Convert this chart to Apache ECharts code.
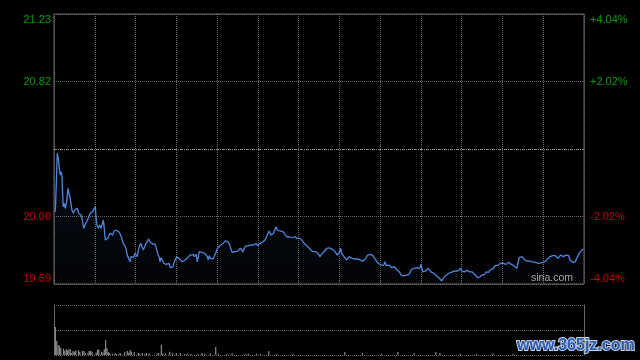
<!DOCTYPE html>
<html><head><meta charset="utf-8">
<script src="https://cdn.jsdelivr.net/npm/echarts@6/dist/echarts.min.js"></script>
<style>html,body{margin:0;padding:0;background:#000;}#c{width:640px;height:360px;}</style>
</head><body><div id="c"></div>
<script>
const prevClose = 20.41;
const sessionMinutes = 390;
const leftTickLabels = ['19.59', '20.00', '', '20.82', '21.23'];
const rightTickLabels = ['-4.04%', '-2.02%', '', '+2.02%', '+4.04%'];

// [minute since open, price]
const minutePrice = [
[1.0,20.029],[2.4,20.384],[3.2,20.353],[3.9,20.293],[4.6,20.252],[5.2,20.272],[5.9,20.242],[6.4,20.130],[6.8,20.059],[7.6,20.080],
[8.3,20.050],[9.3,20.090],[10.3,20.171],[11.0,20.141],[11.8,20.120],[12.5,20.080],[13.2,20.039],[14.2,20.019],[15.2,20.039],[16.2,20.029],
[17.1,20.050],[18.2,20.019],[19.1,20.019],[20.1,20.009],[21.1,19.968],[21.9,19.928],[22.8,19.948],[24.1,19.948],[25.2,19.989],[26.5,20.019],
[28.0,20.025],[29.4,20.019],[30.4,20.059],[30.9,19.999],[31.6,19.948],[32.6,19.928],[33.6,19.948],[34.6,19.928],[35.5,19.938],[36.3,19.979],
[37.0,19.928],[37.7,19.857],[38.8,19.847],[39.5,19.867],[40.5,19.857],[41.2,19.898],[42.2,19.907],[43.2,19.887],[44.1,19.912],[45.6,19.918],
[46.9,19.907],[48.0,19.904],[49.1,19.887],[50.0,19.877],[51.0,19.837],[52.2,19.827],[53.0,19.807],[53.9,19.766],[55.0,19.756],[55.9,19.725],
[56.7,19.756],[57.6,19.766],[58.6,19.750],[59.6,19.776],[60.3,19.766],[61.3,19.756],[62.0,19.790],[62.8,19.816],[63.8,19.837],[64.8,19.827],
[65.7,19.796],[66.7,19.816],[67.7,19.837],[68.7,19.847],[69.7,19.863],[70.6,19.847],[71.6,19.843],[72.6,19.833],[73.6,19.841],[74.5,19.831],
[75.6,19.830],[76.3,19.776],[77.3,19.756],[78.0,19.725],[78.7,19.750],[79.7,19.736],[80.7,19.716],[81.7,19.722],[82.6,19.709],[83.7,19.705],
[84.6,19.716],[85.6,19.689],[86.6,19.701],[87.6,19.695],[88.5,19.725],[89.5,19.736],[90.5,19.756],[91.5,19.746],[92.5,19.740],[93.4,19.729],
[94.4,19.725],[95.4,19.729],[96.4,19.736],[97.3,19.742],[98.4,19.750],[99.3,19.756],[100.3,19.766],[101.3,19.762],[102.3,19.770],[103.2,19.756],
[104.0,19.750],[104.7,19.770],[105.4,19.725],[106.2,19.756],[106.9,19.786],[107.9,19.790],[108.9,19.782],[109.9,19.790],[110.9,19.776],[111.8,19.766],
[112.8,19.756],[113.5,19.736],[114.3,19.762],[115.0,19.746],[116.0,19.750],[117.0,19.742],[118.0,19.762],[119.0,19.776],[119.9,19.802],[120.9,19.810],
[122.1,19.822],[123.4,19.827],[124.4,19.837],[125.3,19.847],[126.3,19.853],[127.3,19.847],[128.3,19.843],[129.3,19.827],[130.2,19.802],[131.2,19.782],
[132.2,19.776],[133.2,19.786],[134.1,19.782],[135.2,19.790],[136.1,19.796],[137.1,19.807],[138.1,19.816],[139.1,19.786],[140.0,19.807],[141.1,19.822],
[142.0,19.810],[143.0,19.822],[144.0,19.831],[145.0,19.827],[145.9,19.837],[146.9,19.827],[147.9,19.816],[148.9,19.837],[149.9,19.822],[150.8,19.827],
[151.8,19.837],[152.8,19.831],[153.8,19.847],[154.7,19.857],[155.6,19.860],[156.5,19.863],[157.5,19.898],[158.4,19.912],[159.5,19.887],[160.4,19.877],
[161.4,19.898],[162.4,19.918],[163.4,19.938],[164.3,19.918],[165.3,19.918],[166.3,19.912],[167.5,19.918],[168.7,19.907],[170.0,19.898],[171.2,19.877],
[172.2,19.867],[173.1,19.877],[174.2,19.883],[175.1,19.871],[176.1,19.867],[177.1,19.877],[178.1,19.871],[179.0,19.867],[180.1,19.877],[181.0,19.867],
[182.0,19.857],[183.0,19.851],[184.0,19.837],[184.9,19.831],[185.9,19.822],[186.9,19.815],[187.9,19.807],[188.9,19.796],[189.8,19.790],[190.8,19.782],
[191.8,19.786],[192.8,19.790],[193.7,19.782],[194.8,19.790],[195.7,19.756],[196.7,19.770],[197.7,19.782],[198.7,19.786],[199.6,19.796],[200.7,19.807],
[201.6,19.813],[202.6,19.810],[203.6,19.807],[204.6,19.802],[205.5,19.796],[206.5,19.790],[207.5,19.782],[208.5,19.766],[209.5,19.756],[210.2,19.786],
[211.0,19.807],[211.7,19.776],[212.4,19.766],[213.4,19.756],[214.3,19.746],[215.4,19.736],[216.3,19.746],[217.3,19.756],[218.3,19.750],[219.3,19.746],
[220.2,19.746],[221.3,19.742],[222.2,19.746],[223.2,19.742],[224.2,19.746],[225.2,19.736],[226.1,19.746],[227.1,19.729],[228.1,19.725],[229.1,19.742],
[229.8,19.746],[230.8,19.766],[231.8,19.776],[232.7,19.770],[233.8,19.776],[234.7,19.762],[235.7,19.750],[236.7,19.736],[237.7,19.725],[238.6,19.716],
[239.7,19.709],[240.6,19.705],[241.6,19.709],[242.6,19.705],[243.6,19.725],[244.5,19.701],[245.5,19.695],[246.5,19.705],[247.5,19.701],[248.5,19.689],
[249.4,19.695],[250.4,19.695],[251.4,19.685],[252.4,19.675],[253.3,19.669],[254.4,19.661],[255.3,19.644],[256.3,19.655],[257.3,19.640],[258.3,19.634],
[259.2,19.644],[260.3,19.634],[261.2,19.648],[262.2,19.664],[263.2,19.681],[264.2,19.675],[265.1,19.685],[266.1,19.675],[267.1,19.689],[268.1,19.695],
[269.1,19.685],[270.0,19.709],[270.8,19.685],[271.5,19.664],[272.5,19.675],[273.5,19.669],[274.5,19.681],[275.4,19.685],[276.4,19.675],[277.4,19.664],
[278.4,19.661],[279.4,19.655],[280.3,19.644],[281.3,19.640],[282.3,19.634],[283.3,19.628],[284.3,19.620],[285.3,19.608],[286.2,19.620],[287.2,19.634],
[288.2,19.644],[289.2,19.648],[290.1,19.655],[291.2,19.658],[292.1,19.661],[293.1,19.664],[294.1,19.661],[295.1,19.669],[296.0,19.675],[297.1,19.669],
[298.0,19.675],[299.0,19.685],[300.0,19.669],[300.9,19.675],[301.9,19.664],[302.9,19.669],[303.9,19.673],[304.9,19.669],[305.9,19.664],[307.6,19.664],
[309.0,19.655],[310.5,19.640],[312.0,19.628],[313.5,19.634],[315.0,19.644],[315.9,19.655],[316.9,19.648],[317.9,19.664],[318.8,19.669],[319.9,19.661],
[320.8,19.675],[321.8,19.685],[322.8,19.681],[323.8,19.689],[324.7,19.701],[325.8,19.695],[326.7,19.705],[327.7,19.709],[328.7,19.716],[329.7,19.709],
[330.6,19.716],[331.6,19.705],[332.6,19.709],[333.5,19.701],[334.6,19.722],[335.5,19.716],[336.5,19.709],[337.5,19.705],[338.5,19.701],[339.4,19.705],
[340.5,19.685],[341.4,19.716],[342.4,19.750],[343.4,19.742],[344.4,19.756],[345.3,19.746],[346.3,19.736],[347.3,19.742],[348.3,19.729],[349.3,19.736],
[350.3,19.729],[351.2,19.736],[352.2,19.725],[353.2,19.729],[354.2,19.722],[355.2,19.716],[356.1,19.716],[357.1,19.716],[358.1,19.718],[359.1,19.722],
[360.0,19.722],[361.1,19.725],[362.0,19.729],[363.0,19.742],[364.0,19.746],[365.0,19.756],[365.9,19.746],[367.0,19.762],[367.9,19.750],[368.9,19.762],
[369.9,19.756],[370.9,19.746],[371.8,19.756],[372.8,19.766],[373.8,19.762],[374.8,19.756],[375.8,19.762],[376.7,19.766],[377.7,19.770],[378.7,19.762],
[379.7,19.736],[380.7,19.725],[381.7,19.722],[382.6,19.716],[383.6,19.725],[384.6,19.746],[385.6,19.762],[386.5,19.776],[387.5,19.782],[388.5,19.796],
[389.5,19.802]
];

// [minute since open, volume]
const minuteVolume = [
[1,28000],[2,14000],[3,10000],[4,9000],[5,7000],[7,6300],[8,4000],[9,5700],[10,4700],[11,5700],[12,5700],[13,2000],[14,4000],[15,3300],
[16,4700],[18,4700],[19,3300],[21,4000],[22,4000],[23,2300],[25,2300],[26,4000],[27,4000],[28,3300],[31,2300],[32,5000],[33,5700],
[35,3300],[36,2300],[37,5700],[38,15000],[39,7000],[40,3000],[41,2000],[43,1300],[45,2000],[46,1000],[48,1300],[49,1700],[52,3300],
[54,4000],[55,2300],[56,5000],[57,3300],[59,3000],[62,2300],[63,1300],[65,2000],[67,1000],[68,2000],[70,1700],[76,1000],[77,2000],
[79,10000],[80,1300],[82,1700],[85,3300],[87,1700],[90,2000],[93,2000],[96,1000],[98,1300],[101,1000],[106,1000],[109,2000],[111,1300],
[115,1700],[119,8000],[121,1300],[127,1000],[131,2000],[141,1000],[143,1300],[149,1300],[152,1000],[158,4000],[164,1000],[176,1000],
[214,3000],[227,2000],[241,1300],[253,3000],[265,1700],[281,3000],[284,2000],[299,1300],[311,1300],[323,1700],[338,1300]
];

const priceData = minutePrice.map(d => [d[0], +((d[1] - prevClose) * 100).toFixed(2)]);
const tickIndex = v => Math.round((v + 82) / 41);
const upColor = '#0c9c0c', downColor = '#cc0000';
const gridColor = '#6a6a6a';
const labelFont = 'Liberation Sans, Arial, sans-serif';

const chart = echarts.init(document.getElementById('c'), null, {renderer: 'canvas'});
chart.setOption({
  backgroundColor: '#000',
  animation: false,
  grid: [
    {left: 54, top: 14, width: 530, height: 270, show: true, borderColor: gridColor, borderWidth: 1, backgroundColor: 'transparent'},
    {left: 54, top: 305, width: 530, height: 50, show: false}
  ],
  xAxis: [
    {gridIndex: 0, type: 'value', min: 0, max: sessionMinutes, interval: 30,
     axisLine: {show: false}, axisTick: {show: false}, axisLabel: {show: false},
     splitLine: {show: true, lineStyle: {color: gridColor, type: [1, 1], width: 1}}},
    {gridIndex: 1, type: 'value', min: 0, max: sessionMinutes, interval: 30,
     axisLine: {show: false}, axisTick: {show: false}, axisLabel: {show: false}, splitLine: {show: false}}
  ],
  yAxis: [
    {gridIndex: 0, type: 'value', min: -82, max: 82, interval: 41, position: 'left',
     axisLine: {show: false}, axisTick: {show: false},
     axisLabel: {margin: 3, fontSize: 11, fontFamily: labelFont,
       verticalAlignMinLabel: 'bottom', verticalAlignMaxLabel: 'top',
       formatter: v => leftTickLabels[tickIndex(v)],
       color: v => tickIndex(v) > 2 ? upColor : downColor},
     splitLine: {show: true, lineStyle: {color: [gridColor, gridColor, 'rgba(0,0,0,0)', gridColor, gridColor], type: [1, 1], width: 1}}},
    {gridIndex: 0, type: 'value', min: -82, max: 82, interval: 41, position: 'right',
     axisLine: {show: false}, axisTick: {show: false}, splitLine: {show: false},
     axisLabel: {margin: 6, fontSize: 11, fontFamily: labelFont,
       verticalAlignMinLabel: 'bottom', verticalAlignMaxLabel: 'top',
       formatter: v => rightTickLabels[tickIndex(v)],
       color: v => tickIndex(v) > 2 ? upColor : downColor}},
    {gridIndex: 1, type: 'value', min: 0, max: 50000, interval: 25000, position: 'left',
     axisLine: {show: true, lineStyle: {color: gridColor}}, axisTick: {show: false}, axisLabel: {show: false},
     splitLine: {show: true, lineStyle: {color: gridColor, type: [1, 1], width: 1}}},
    {gridIndex: 1, type: 'value', min: 0, max: 50000, interval: 25000, position: 'right',
     axisLine: {show: true, lineStyle: {color: gridColor}}, axisTick: {show: false}, axisLabel: {show: false},
     splitLine: {show: false}}
  ],
  series: [
    {type: 'line', xAxisIndex: 0, yAxisIndex: 0, data: priceData, showSymbol: false, symbol: 'none',
     lineStyle: {color: '#4d86dc', width: 1.3},
     areaStyle: {origin: 'start', color: new echarts.graphic.LinearGradient(0, 0, 0, 1, [
       {offset: 0, color: 'rgba(60,100,180,0.16)'}, {offset: 1, color: 'rgba(60,100,180,0.06)'}])},
     markLine: {silent: true, symbol: 'none', label: {show: false},
       lineStyle: {color: '#8a8a8a', type: [3, 1, 1, 1], width: 1},
       data: [{yAxis: 0}]}},
    {type: 'bar', xAxisIndex: 1, yAxisIndex: 2, data: minuteVolume, barWidth: 1.2,
     itemStyle: {color: '#8c8c8c'}}
  ],
  graphic: [
    {type: 'text', right: 67, top: 273, z: 10,
     style: {text: 'sina.com', fill: '#a8a8a8', font: '10.5px Liberation Sans, Arial, sans-serif'}},
    {type: 'text', left: 516, top: 337, z: 20,
     style: {text: 'www.365jz.com', fill: '#2a5cb4', stroke: '#c4cddc', lineWidth: 2,
       font: 'bold 16px Liberation Sans, Arial, sans-serif'}}
  ]
});
</script>
</body></html>
